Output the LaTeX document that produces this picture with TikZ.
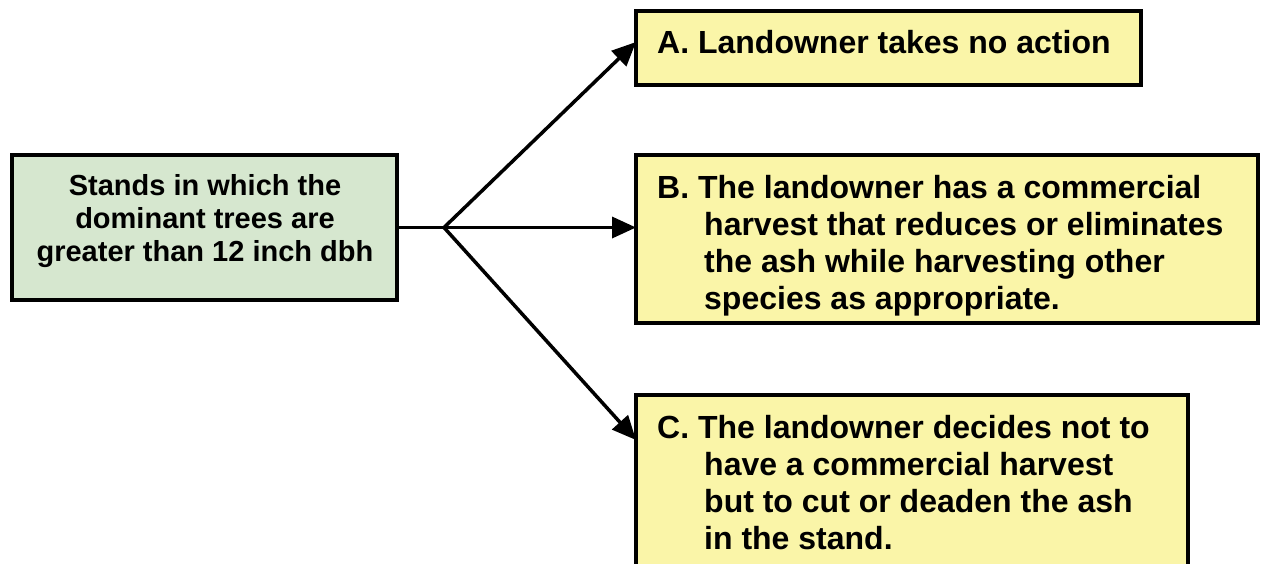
\documentclass[tikz,border=0pt]{standalone}
\usepackage{fontspec}
\setmainfont{Liberation Sans}
\usetikzlibrary{arrows.meta}
\definecolor{boxgreen}{RGB}{214,231,207}
\definecolor{boxyellow}{RGB}{250,245,168}
\begin{document}
\begin{tikzpicture}[x=1pt,y=-1pt,
  box/.style={draw=black, line width=3.5pt, inner sep=0pt, outer sep=0pt, anchor=north west},
  srcbox/.style={box, fill=boxgreen},
  optbox/.style={box, fill=boxyellow},
  lbl/.style={inner sep=0pt, font=\bfseries\fontsize{32}{37}\selectfont, align=left, anchor=north west},
  conn/.style={line width=3.5pt},
  arr/.style={line width=3.5pt, -{Triangle[length=24pt,width=21pt]}}]
\useasboundingbox (0,0) rectangle (1261,563);
\clip (0,0) rectangle (1261,563);
% boxes
\node[srcbox, minimum width=385pt, minimum height=145pt] (S) at (12,155) {};
\node[optbox, minimum width=505pt, minimum height=74pt] (A) at (636,11) {};
\node[optbox, minimum width=622pt, minimum height=168pt] (B) at (636,155) {};
\node[optbox, minimum width=552pt, minimum height=190pt] (C) at (636,395) {};
% texts
\node[lbl, font=\bfseries\fontsize{29}{33}\selectfont, align=center, anchor=north] (St) at (205,174.6)
  {Stands in which the\\dominant trees are\\greater than 12 inch dbh};
\node[lbl] (At) at (657,30.6) {A. Landowner takes no action};
\node[lbl] (Bt) at (657,175.6) {B. The landowner has a commercial\\
  \hspace*{47pt}harvest that reduces or eliminates\\
  \hspace*{47pt}the ash while harvesting other\\
  \hspace*{47pt}species as appropriate.};
\node[lbl] (Ct) at (657,415.6) {C. The landowner decides not to\\
  \hspace*{47pt}have a commercial harvest\\
  \hspace*{47pt}but to cut or deaden the ash\\
  \hspace*{47pt}in the stand.};
% connectors
\coordinate (J) at (444,227.5);
\draw[conn] (S.east) -- (J);
\draw[arr] (J) -- ([yshift=6pt]A.west);
\draw[arr] (J) -- (B.west |- J);
\draw[arr] (J) -- ([yshift=-45pt]C.north west);
\end{tikzpicture}
\end{document}
